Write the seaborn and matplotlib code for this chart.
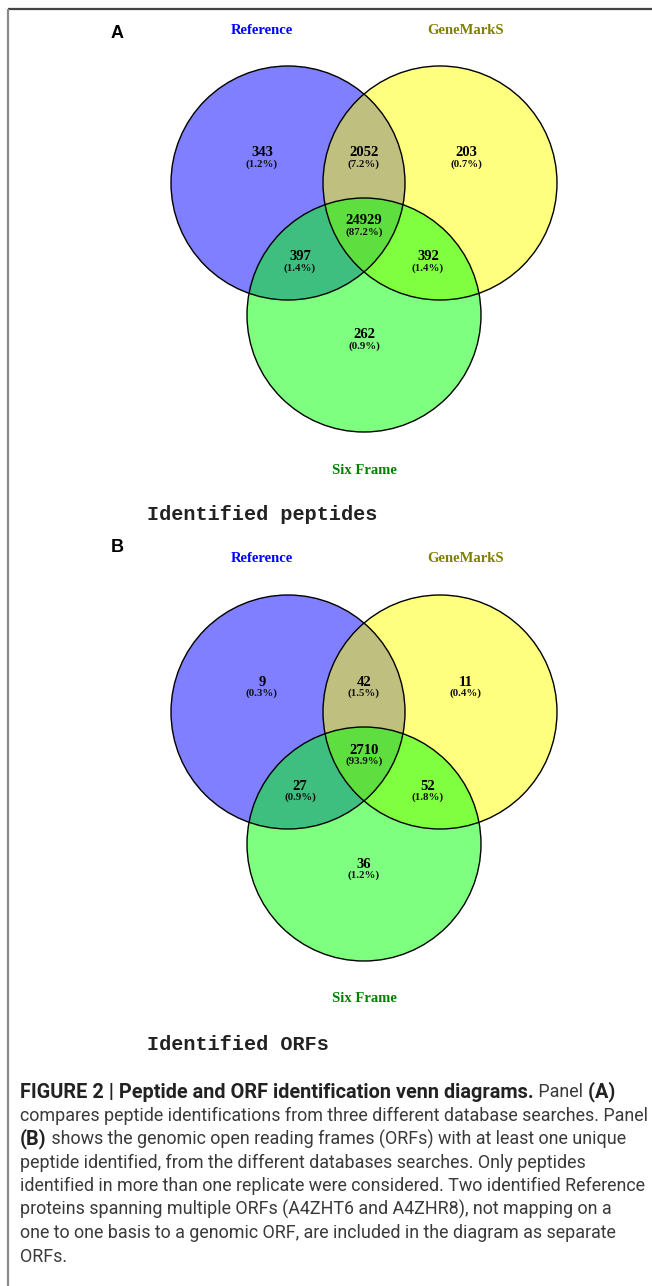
import numpy as np
import matplotlib
matplotlib.use("Agg")
import matplotlib.pyplot as plt
from matplotlib.patches import Circle
import seaborn as sns

# set names and colours
set_names = ["Reference", "GeneMarkS", "Six Frame"]
set_fill = ["#0000ff", "#ffff00", "#00ff00"]
set_label_color = ["#0000ff", "#808000", "#008000"]

# region order: only Ref, Ref&Gene, only Gene, all three, Ref&Six, Gene&Six, only Six
pep_counts = [343, 2052, 203, 24929, 397, 392, 262]
pep_pct = ["1.2%", "7.2%", "0.7%", "87.2%", "1.4%", "1.4%", "0.9%"]
orf_counts = [9, 42, 11, 2710, 27, 52, 36]
orf_pct = ["0.3%", "1.5%", "0.4%", "93.9%", "0.9%", "1.8%", "1.2%"]

panel_letters = ["A", "B"]
panel_titles = ["Identified peptides", "Identified ORFs"]

caption = [
    [("FIGURE 2 | Peptide and ORF identification venn diagrams.", "bold"), (" Panel", "normal"), (" (A)", "bold")],
    [("compares peptide identifications from three different database searches. Panel", "normal")],
    [("(B)", "bold"), (" shows the genomic open reading frames (ORFs) with at least one unique", "normal")],
    [("peptide identified, from the different databases searches. Only peptides", "normal")],
    [("identified in more than one replicate were considered. Two identified Reference", "normal")],
    [("proteins spanning multiple ORFs (A4ZHT6 and A4ZHR8), not mapping on a", "normal")],
    [("one to one basis to a genomic ORF, are included in the diagram as separate", "normal")],
    [("ORFs.", "normal")],
]

sns.set_theme(style="white")
serif = ["Liberation Serif", "DejaVu Serif"]
cap_font = ["Roboto", "DejaVu Sans"]

W, H = 652, 1286
fig = plt.figure(figsize=(W / 100, H / 100), dpi=100)
ax = fig.add_axes([0, 0, 1, 1])
ax.set_xlim(0, W)
ax.set_ylim(H, 0)
ax.set_aspect("equal")
ax.axis("off")

# frame lines of the figure box
ax.plot([7.5, W], [8.5, 8.5], color="#444444", lw=1.6, solid_capstyle="butt")
ax.plot([7.5, 7.5], [8.5, H], color="#8a8a8a", lw=1.6, solid_capstyle="butt")

# venn layout (pixels, panel A); panel B is shifted down
centers = [(288, 183), (440, 183), (364, 315)]
radius = 117
label_pos = [(262, 153), (364, 153), (466, 153), (364, 221), (300, 257), (428, 257), (364, 335)]
name_pos = [(262, 30), (466, 30), (364, 470)]
offsets = [0, 529]


def draw_venn(dy, counts, pct, letter, title):
    for (cx, cy), col in zip(centers, set_fill):
        ax.add_patch(Circle((cx, cy + dy), radius, facecolor=col, alpha=0.5,
                            edgecolor="none", zorder=2))
    for (cx, cy) in centers:
        ax.add_patch(Circle((cx, cy + dy), radius, facecolor="none",
                            edgecolor="black", lw=1.0, zorder=3))
    for (x, y), n, p in zip(label_pos, counts, pct):
        ax.text(x, y + dy, str(n), ha="center", va="center", family=serif,
                weight="bold", fontsize=10.5, color="black", zorder=4)
        ax.text(x, y + dy + 11, "(" + p + ")", ha="center", va="center", family=serif,
                weight="bold", fontsize=7.8, color="#111111", zorder=4)
    for (x, y), name, col in zip(name_pos, set_names, set_label_color):
        ax.text(x, y + dy, name, ha="center", va="center", family=serif,
                weight="bold", fontsize=10.5, color=col)
    ax.text(117, 33 + dy - (14 if dy else 0), letter, ha="center", va="center",
            family=["Liberation Sans", "DejaVu Sans"], weight="bold", fontsize=13, color="black")
    ax.text(147, 515 + dy, title, ha="left", va="center",
            family=["Liberation Mono", "DejaVu Sans Mono"], weight="bold",
            fontsize=14.5, color="#222222")


draw_venn(offsets[0], pep_counts, pep_pct, panel_letters[0], panel_titles[0])
draw_venn(offsets[1], orf_counts, orf_pct, panel_letters[1], panel_titles[1])

# caption: scale the fonts so the lines span the same widths as in the figure
renderer = fig.canvas.get_renderer()


def text_width(s, weight):
    t = ax.text(0, 0, s, family=cap_font, weight=weight, fontsize=10)
    w = t.get_window_extent(renderer).width
    t.remove()
    return w


sizes = {
    "normal": 10 * 631 / text_width(caption[1][0][0], "normal"),
    "bold": 10 * 514 / text_width(caption[0][0][0], "bold"),
}

y = 1092
for runs in caption:
    x = 20
    for s, w in runs:
        t = ax.text(x, y, s, family=cap_font, weight=w, fontsize=sizes[w],
                    color="#222222" if w == "bold" else "#3a3a3a", ha="left", va="center")
        x += t.get_window_extent(renderer).width
    y += 23.5

fig.savefig("out.png", dpi=100)
